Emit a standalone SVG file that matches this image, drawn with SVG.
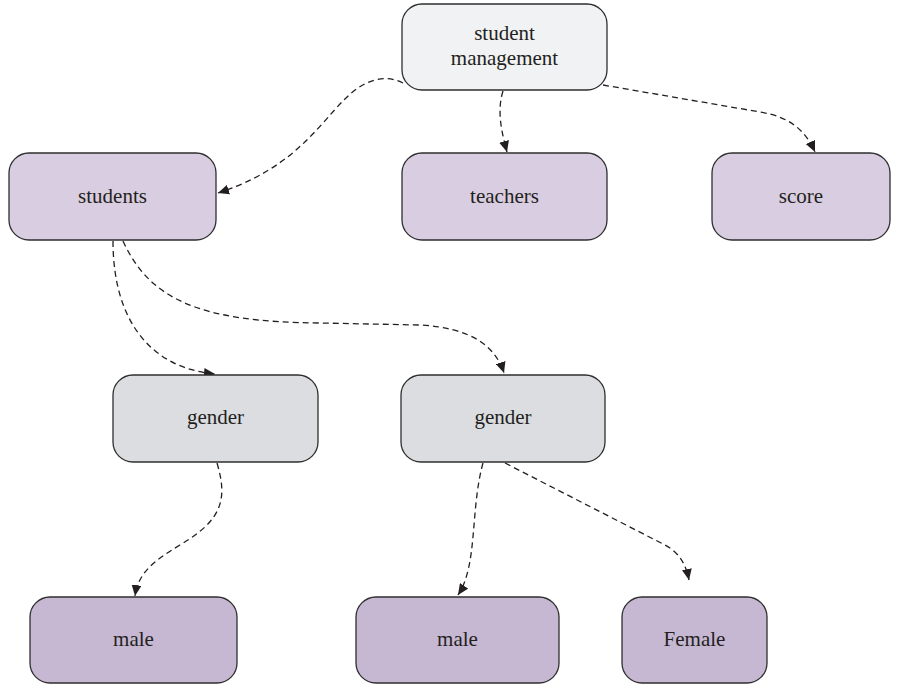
<svg xmlns="http://www.w3.org/2000/svg" width="905" height="686" viewBox="0 0 905 686">
<defs>
<style>
.n rect{stroke:#2e2e2e;stroke-width:1.3}
.n text{font-family:"Liberation Serif",serif;font-size:21px;fill:#231f20;text-anchor:middle}
.top rect{fill:#f1f2f4}
.l1 rect{fill:#d9cde1}
.l2 rect{fill:#dcdde0}
.l3 rect{fill:#c6b8d3}
#edges path{fill:none;stroke:#231f20;stroke-width:1.3;stroke-dasharray:6 4;marker-end:url(#ah)}
</style>
<marker id="ah" markerUnits="userSpaceOnUse" markerWidth="12" markerHeight="10" refX="11" refY="5" orient="auto">
<path d="M0,0 L11,5 L0,10 Z" fill="#231f20"/>
</marker>
</defs>
<rect width="905" height="686" fill="#fff"/>
<g id="edges">
<path d="M403,83 C395,79 385,77 375,80 C330,92 320,160 218,193"/>
<path d="M503,91 C497,110 501,130 507,152"/>
<path d="M603,85 L760,112 C790,117 805,130 815,152"/>
<path d="M113,241 C113,320 150,368 215,374"/>
<path d="M123,241 C150,300 200,322 320,323 L420,325 C470,328 495,345 504,373"/>
<path d="M217,463 C228,500 222,520 180,545 C150,563 138,575 135,596"/>
<path d="M483,463 C470,510 478,565 458,595"/>
<path d="M505,463 L665,545 C680,553 686,565 689,580"/>
</g>
<g id="n-student-management" class="n top"><rect x="402" y="4" width="205" height="86" rx="20"/><text x="504.5" y="40">student</text><text x="504.5" y="65">management</text></g>
<g id="n-students" class="n l1"><rect x="9" y="153" width="207" height="87" rx="20"/><text x="112.5" y="203">students</text></g>
<g id="n-teachers" class="n l1"><rect x="402" y="153" width="205" height="87" rx="20"/><text x="504.5" y="203">teachers</text></g>
<g id="n-score" class="n l1"><rect x="712" y="153" width="178" height="87" rx="20"/><text x="801" y="203">score</text></g>
<g id="n-gender1" class="n l2"><rect x="113" y="375" width="205" height="87" rx="20"/><text x="215.5" y="424">gender</text></g>
<g id="n-gender2" class="n l2"><rect x="401" y="375" width="204" height="87" rx="20"/><text x="503" y="424">gender</text></g>
<g id="n-male1" class="n l3"><rect x="30" y="597" width="207" height="86" rx="20"/><text x="133.5" y="646">male</text></g>
<g id="n-male2" class="n l3"><rect x="356" y="597" width="203" height="86" rx="20"/><text x="457.5" y="646">male</text></g>
<g id="n-female" class="n l3"><rect x="622" y="597" width="145" height="86" rx="20"/><text x="694.5" y="646">Female</text></g>
</svg>
